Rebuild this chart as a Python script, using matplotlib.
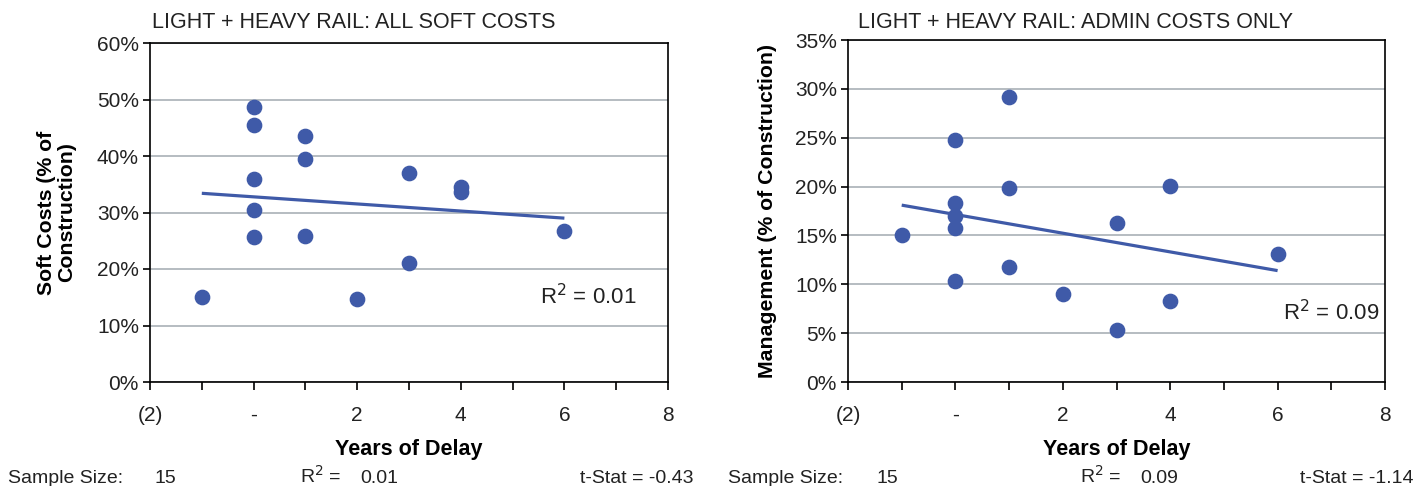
import matplotlib
matplotlib.use("Agg")
import matplotlib.pyplot as plt
from matplotlib.ticker import FixedLocator, MultipleLocator, FuncFormatter

plt.rcParams['font.family'] = ['Liberation Sans', 'DejaVu Sans']

# ---- data ----
soft_x = [-1, 0, 0, 0, 0, 0, 1, 1, 1, 2, 3, 3, 4, 4, 6]
soft_y = [15.0, 48.7, 45.5, 36.0, 30.5, 25.7, 43.5, 39.5, 25.8, 14.7, 37.0, 21.0, 34.6, 33.6, 26.7]
soft_trend_x = [-1, 6]
soft_trend_y = [33.4, 29.0]

admin_x = [-1, 0, 0, 0, 0, 0, 1, 1, 1, 2, 3, 3, 4, 4, 6]
admin_y = [15.0, 24.8, 18.3, 17.0, 15.8, 10.3, 29.2, 19.9, 11.8, 9.0, 16.3, 5.3, 20.1, 8.3, 13.1]
admin_trend_x = [-1, 6]
admin_trend_y = [18.1, 11.4]

x_ticks = [-2, 0, 2, 4, 6, 8]
x_labels = ['(2)', '-', '2', '4', '6', '8']

titles = ['LIGHT + HEAVY RAIL: ALL SOFT COSTS', 'LIGHT + HEAVY RAIL: ADMIN COSTS ONLY']
ylabels = ['Soft Costs (% of\nConstruction)', 'Management (% of Construction)']
r2_vals = ['0.01', '0.09']
tstats = ['-0.43', '-1.14']
sample_sizes = ['15', '15']

COLOR = '#3f5aa8'
W, H = 1417, 486

fig = plt.figure(figsize=(W / 100, H / 100), dpi=100)

specs = [
    dict(px=(150, 668, 43, 382), ymax=60, ystep=10,
         x=soft_x, y=soft_y, tx=soft_trend_x, ty=soft_trend_y,
         r2pos=(540, 297), title_x=152, ylab_right=76,
         bottom=dict(ss=8, n=155, r2=300, v=360, t=694)),
    dict(px=(848, 1385, 40, 382), ymax=35, ystep=5,
         x=admin_x, y=admin_y, tx=admin_trend_x, ty=admin_trend_y,
         r2pos=(1283, 313), title_x=858, ylab_right=777,
         bottom=dict(ss=728, n=876, r2=1080, v=1140, t=1414)),
]

for i, s in enumerate(specs):
    l, r, t, b = s['px']
    ax = fig.add_axes([l / W, 1 - b / H, (r - l) / W, (b - t) / H])
    ax.plot(s['tx'], s['ty'], color=COLOR, lw=2.3, zorder=3, solid_capstyle='butt')
    ax.plot(s['x'], s['y'], 'o', color=COLOR, ms=10.3, zorder=4)
    ax.set_xlim(-2, 8)
    ax.set_ylim(0, s['ymax'])
    ax.xaxis.set_major_locator(FixedLocator(x_ticks))
    ax.set_xticklabels(x_labels)
    ax.xaxis.set_minor_locator(MultipleLocator(1))
    ax.yaxis.set_major_locator(MultipleLocator(s['ystep']))
    ax.yaxis.set_major_formatter(FuncFormatter(lambda v, p: f'{v:.0f}%'))
    ax.grid(axis='y', color='#a9b0b6', lw=1.2)
    ax.set_axisbelow(True)
    for sp in ax.spines.values():
        sp.set_color('black')
        sp.set_linewidth(1.2)
    ax.tick_params(axis='x', which='major', direction='out', length=6, width=1.2,
                   labelsize=15, pad=11, labelcolor='#222222', color='black')
    ax.tick_params(axis='x', which='minor', direction='out', length=6, width=1.2)
    ax.tick_params(axis='y', direction='out', length=5, width=1.2, labelsize=15, pad=3,
                   labelcolor='#222222')
    ax.set_xlabel('Years of Delay', fontsize=15.5, fontweight='bold')
    ax.xaxis.set_label_coords(0.5, -(439 - b) / (b - t))
    ax.set_ylabel(ylabels[i], fontsize=15.3, fontweight='bold', linespacing=1.05)
    ax.yaxis.set_label_coords((s['ylab_right'] - l) / (r - l), 0.5)

    fig.text(s['title_x'] / W, 1 - 28 / H, titles[i], fontsize=15.5, va='baseline',
             ha='left', color='#222222')
    fig.text(s['r2pos'][0] / W, 1 - s['r2pos'][1] / H, r'R$^2$ = ' + r2_vals[i],
             fontsize=16, va='center', ha='left', color='#222222')

    bt = s['bottom']
    yb = 1 - 483 / H
    kw = dict(fontsize=14, va='baseline', color='#222222')
    fig.text(bt['ss'] / W, yb, 'Sample Size:', **kw)
    fig.text(bt['n'] / W, yb, sample_sizes[i], **kw)
    fig.text(bt['r2'] / W, yb, r'R$^2$ =', **kw)
    fig.text(bt['v'] / W, yb, r2_vals[i], **kw)
    fig.text(bt['t'] / W, yb, 't-Stat = ' + tstats[i], ha='right', **kw)

fig.savefig('out.png', dpi=100)
